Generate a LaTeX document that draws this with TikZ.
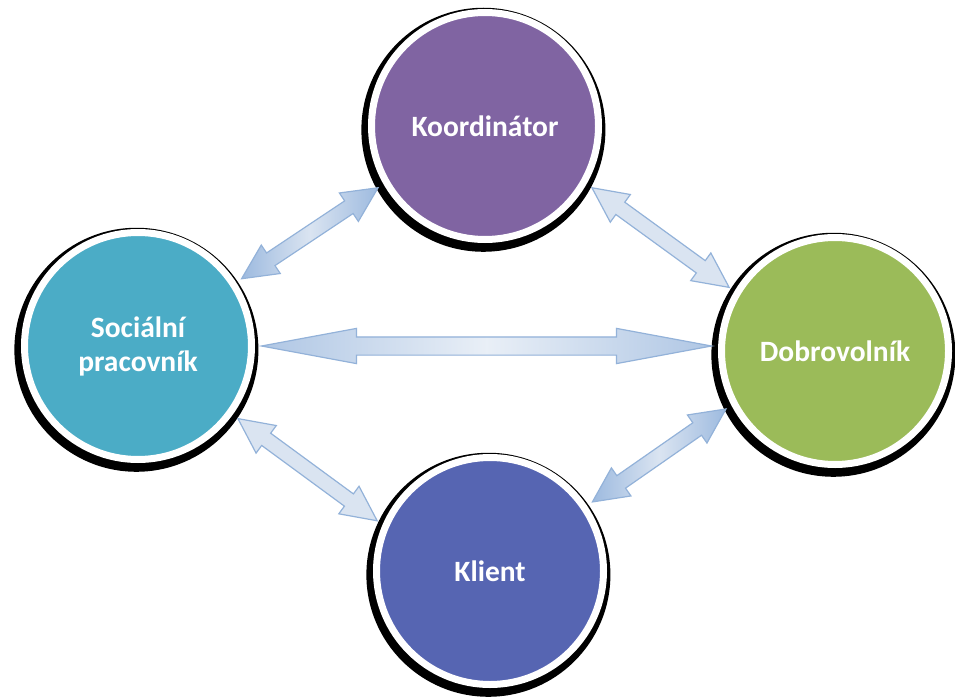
\documentclass[tikz,border=0pt]{standalone}
\usepackage{fontspec}
\setmainfont{Carlito}
\usetikzlibrary{positioning, shapes.arrows, shadows, calc}
\definecolor{kocolor}{HTML}{8064A2}
\definecolor{spcolor}{HTML}{4BACC6}
\definecolor{docolor}{HTML}{9BBB59}
\definecolor{klcolor}{HTML}{5665B2}
\definecolor{linkline}{HTML}{93B2D9}
\definecolor{linkfill}{HTML}{DAE4F1}
\definecolor{linkdark}{HTML}{9DBADF}
\tikzset{
  role/.style={circle, draw=white, line width=7pt, minimum size=227pt, inner sep=0pt, outer sep=10pt,
    align=center, text=white, font=\fontsize{29.5}{34}\selectfont\bfseries,
    drop shadow={shadow xshift=-1.5pt, shadow yshift=-3.5pt, shadow scale=1.075, fill=black, opacity=1}},
  link/.style={double arrow, draw=linkline, line width=1.2pt, fill=linkfill, inner sep=0pt, inner ysep=7pt,
    double arrow head extend=9.5pt, double arrow tip angle=52},
  shadelink/.style={link, left color=linkdark, right color=linkdark, middle color=linkfill},
  longlink/.style={link, inner ysep=8.5pt, double arrow head extend=8.5pt, double arrow tip angle=21,
    left color=linkdark!70!linkfill, right color=linkdark!70!linkfill, middle color=linkfill!60!white},
}
\newcommand{\linkarrow}[3][link]{%
  \path let \p1=(#2), \p2=(#3), \n1={atan2(\y2-\y1,\x2-\x1)}, \n2={veclen(\x2-\x1,\y2-\y1)} in
    node[#1, rotate=\n1, minimum height=\n2] at ($(\p1)!.5!(\p2)$) {};}

\begin{document}
\begin{tikzpicture}[x=1pt, y=-1pt]
  \useasboundingbox (0,0) rectangle (955,698);

  % Nodes
  \node[role, fill=kocolor] (ko) at (485,126) {Koordinátor};
  \node[role, fill=spcolor] (sp) at (138,346) {Sociální\\pracovník};
  \node[role, fill=docolor] (do) at (835,351) {Dobrovolník};
  \node[role, fill=klcolor] (kl) at (490,571) {Klient};

  % Arrows
  \linkarrow[shadelink]{sp.33}{ko.210}
  \linkarrow{ko.330}{do.149}
  \linkarrow[longlink]{sp.east}{sp.east -| do.west}
  \linkarrow{sp.-36}{kl.156}
  \linkarrow[shadelink]{do.208}{kl.34}

\end{tikzpicture}
\end{document}
